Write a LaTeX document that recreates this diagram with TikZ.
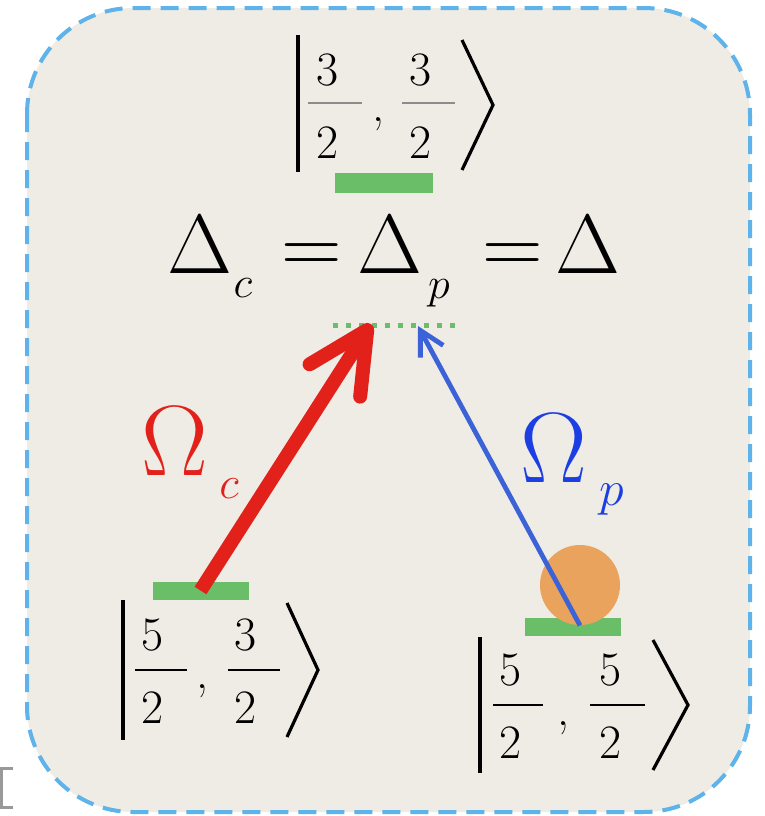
\RequirePackage{fix-cm}
\documentclass[tikz,border=0pt]{standalone}
\usetikzlibrary{arrows.meta}

\definecolor{paper}{HTML}{EFECE5}
\definecolor{frameblue}{HTML}{5DB3EA}
\definecolor{levelgreen}{HTML}{6BBE68}
\definecolor{atomorange}{HTML}{E9A35C}
\definecolor{laserred}{HTML}{E2211A}
\definecolor{laserblue}{HTML}{3C62D8}
\definecolor{textblue}{HTML}{1C3FE3}
\definecolor{rulegrey}{HTML}{8C8C8C}

\begin{document}
\begin{tikzpicture}[
  x=0.5pt, y=-0.5pt,
  frame/.style={draw=frameblue, fill=paper, line width=2pt, dash pattern=on 9pt off 5pt, rounded corners=53pt},
  level/.style={rectangle, fill=levelgreen, inner sep=0pt, minimum width=48pt, minimum height=9pt},
  virtual/.style={draw=levelgreen, line width=2.5pt, dash pattern=on 2.5pt off 4pt},
  atom/.style={circle, fill=atomorange, inner sep=0pt, minimum size=40pt},
  digit/.style={inner sep=0pt, anchor=base, font=\fontsize{24}{24}\selectfont},
  bigsym/.style={inner sep=0pt, anchor=base, font=\fontsize{42}{42}\selectfont},
  sub/.style={inner sep=0pt, anchor=base, font=\fontsize{22}{22}\selectfont},
  ketline/.style={line width=1.6pt, line join=miter},
  fracline/.style={line width=1.3pt},
  couplingarrow/.style={-{Straight Barb[length=30pt, width=30pt, round]}, line width=7pt, draw=laserred},
  probearrow/.style={-{Straight Barb[length=12pt, width=13pt]}, line width=2.4pt, draw=laserblue}
]
  \useasboundingbox (0,0) rectangle (765,816);

  % Frame
  \draw[frame] (27,8) rectangle (750,812);
  \draw[line width=1.5pt, black!40] (13,768) -- (1,768) -- (1,807) -- (13,807);

  % Levels
  \node[level, minimum width=49pt, minimum height=10pt] (lev33) at (384,183) {};
  \node[level] (lev53) at (200.5,590.5) {};
  \node[level] (lev55) at (572.5,626.5) {};

  % Virtual level
  \coordinate (virtl) at (333,325);
  \coordinate (virtr) at (455,325);
  \draw[virtual] (virtl) -- (virtr);

  % Atom in |5/2,5/2>
  \node[atom] (atom) at (580,585) {};

  % Laser arrows
  \coordinate (tipc) at (371,324);
  \coordinate (tipp) at (418,326);
  \draw[couplingarrow] (lev53.center) -- (tipc);
  \draw[probearrow] (atom.south) -- (tipp);

  % Ket |3/2,3/2>
  \draw[ketline] (298,35) -- (298,172);
  \node[digit] (t1n) at (328,85) {3};
  \node[digit] (t1d) at (328,158) {2};
  \draw[fracline, rulegrey] (308,103) -- (362,103);
  \node[digit] (tcom) at (378,121) {,};
  \node[digit] (t2n) at (421,85) {3};
  \node[digit] (t2d) at (421,158) {2};
  \draw[fracline, rulegrey] (402,103) -- (455,103);
  \draw[ketline] (462,40) -- (493,105) -- (462,170);

  % Ket |5/2,3/2>
  \draw[ketline] (123,600) -- (123,740);
  \node[digit] (l1n) at (153,650) {5};
  \node[digit] (l1d) at (153,723) {2};
  \draw[fracline] (135,670) -- (187,670);
  \node[digit] (lcom) at (202,688) {,};
  \node[digit] (l2n) at (246,650) {3};
  \node[digit] (l2d) at (246,723) {2};
  \draw[fracline] (228,670) -- (280,670);
  \draw[ketline] (287,603) -- (318,670) -- (287,737);

  % Ket |5/2,5/2>
  \draw[ketline] (480,637) -- (480,773);
  \node[digit] (r1n) at (511,685) {5};
  \node[digit] (r1d) at (511,758) {2};
  \draw[fracline] (493,705) -- (543,705);
  \node[digit] (rcom) at (563,725) {,};
  \node[digit] (r2n) at (611,685) {5};
  \node[digit] (r2d) at (611,758) {2};
  \draw[fracline] (590,705) -- (645,705);
  \draw[ketline] (653,640) -- (688,705) -- (653,770);

  % Detunings
  \node[bigsym] (dc) at (200,273) {$\Delta$};
  \node[sub] (dcs) at (243,297) {$c$};
  \node[bigsym] (eq1) at (312,273) {$=$};
  \node[bigsym] (dp) at (390,273) {$\Delta$};
  \node[sub] (dps) at (439,298) {$p$};
  \node[bigsym] (eq2) at (513,273) {$=$};
  \node[bigsym] (dd) at (588,273) {$\Delta$};

  % Rabi frequencies
  \node[bigsym, laserred, font=\fontsize{50}{50}\selectfont] (omc) at (175,475) {$\Omega$};
  \node[sub, laserred, font=\fontsize{23}{23}\selectfont] (omcs) at (229,498) {$c$};
  \node[bigsym, textblue, font=\fontsize{50}{50}\selectfont] (omp) at (554,482) {$\Omega$};
  \node[sub, textblue, font=\fontsize{25}{25}\selectfont] (omps) at (612,505) {$p$};
\end{tikzpicture}
\end{document}
